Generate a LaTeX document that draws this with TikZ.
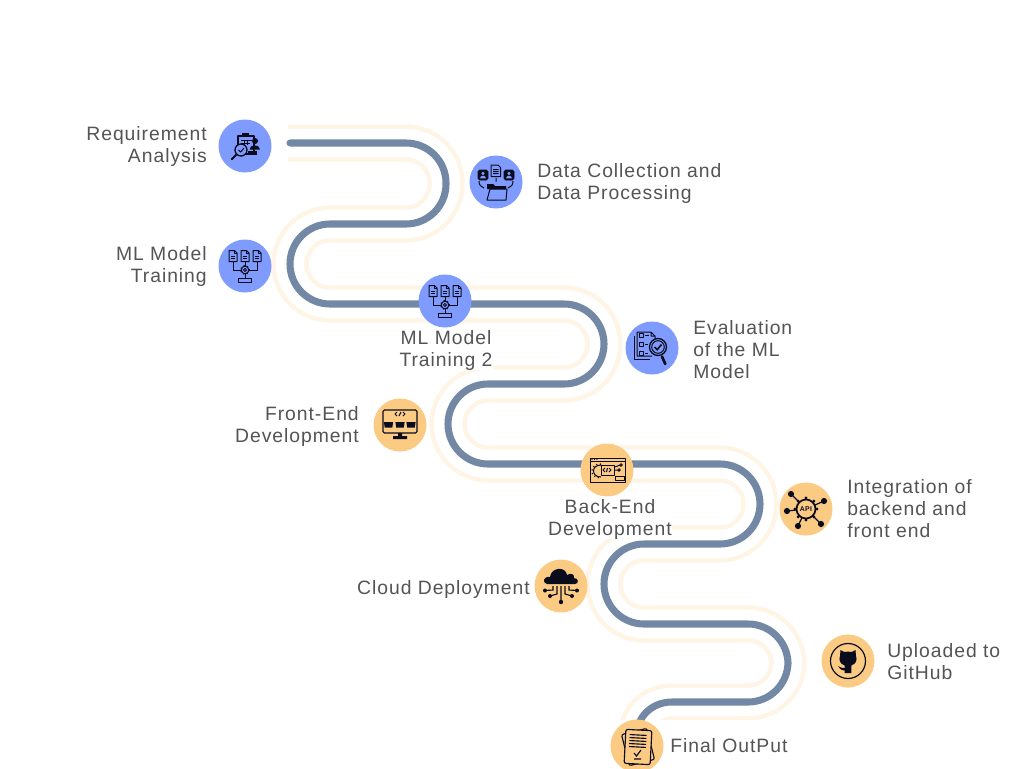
\documentclass[tikz,border=0pt]{standalone}
\usepackage{fontspec}
\setmainfont[LetterSpace=5]{Liberation Sans}
\usepackage{tikz}
\usetikzlibrary{backgrounds}
\definecolor{roadblue}{HTML}{7388A5}
\definecolor{bandpale}{HTML}{FEF5E6}
\definecolor{stepblue}{HTML}{7F9BFD}
\definecolor{steporange}{HTML}{FBCB84}
\definecolor{labelgray}{HTML}{545454}
\definecolor{inkblack}{HTML}{0B0B1E}
\tikzstyle{stepblue} = [circle, minimum size=39.75pt, inner sep=0pt, fill=stepblue]
\tikzstyle{steporange} = [circle, minimum size=39.75pt, inner sep=0pt, fill=steporange]
\tikzstyle{steplabel} = [inner sep=0pt, fill=white, text=labelgray, font=\fontsize{14.5pt}{16.5pt}\selectfont]
\tikzstyle{road} = [line width=5.3pt, color=roadblue, line cap=round, rounded corners=30pt]
\tikzstyle{band} = [line width=28pt, color=bandpale, rounded corners=30pt]
\tikzstyle{bandgap} = [line width=21.2pt, color=white, rounded corners=30pt]
\tikzstyle{ink} = [draw=inkblack, line width=0.75pt, line join=round]
\newcommand{\snakepath}{-- (446,143) -- (446,224) -- (290,224) -- (290,304) -- (604,304) -- (604,384) -- (448,384) -- (448,464) -- (760,464) -- (760,544) -- (604,544) -- (604,624) -- (788,624) -- (788,702) -- (632,702) -- (final.center)}
\tikzset{
  minidoc/.pic={
    \draw[ink, fill=stepblue] (-4,-5.5) -- (1.5,-5.5) -- (4,-3) -- (4,5.5) -- (-4,5.5) -- cycle;
    \draw[ink] (1.5,-5.5) -- (1.5,-3) -- (4,-3) (-2.3,0) -- (2.3,0) (-2.3,2.5) -- (2.3,2.5);
  },
  personbox/.pic={
    \draw[fill=inkblack, draw=inkblack, rounded corners=1.2pt] (-5,-5) rectangle (5,5);
    \fill[stepblue] (0,-1.6) circle (1.7) (-3,3.4) .. controls (-3,-0.2) and (3,-0.2) .. (3,3.4) -- cycle;
  },
  trainicon/.pic={
    \foreach \dx in {-12,0,12} {\pic at (\dx,-10) {minidoc};}
    \draw[ink] (-12,-4) -- (-12,4) -- (-4,4) (12,-4) -- (12,4) -- (4,4) (0,-4) -- (0,0) (0,8) -- (0,12);
    \fill[inkblack] (-4,2.6) -- (-2.6,4) -- (-4,5.4) -- cycle (4,2.6) -- (2.6,4) -- (4,5.4) -- cycle (-1.4,-1) -- (0,0.4) -- (1.4,-1) -- cycle;
    \draw[ink] (0,4) circle (3.8) (0,4) circle (1.5);
    \draw[ink, dotted, line width=1.1pt] (0,4) circle (4.3);
    \draw[ink] (-6.7,12.5) rectangle (6.7,16);
  }
}
\begin{document}
\begin{tikzpicture}[x=0.75pt, y=-0.75pt]
    \useasboundingbox (0,0) rectangle (1024,768);
    % step circles
    \node (req) [stepblue] at (245,146) {};
    \node (data) [stepblue] at (496,182) {};
    \node (train) [stepblue] at (245,266) {};
    \node (traintwo) [stepblue] at (445,301) {};
    \node (eval) [stepblue] at (652,348) {};
    \node (front) [steporange] at (400,425) {};
    \node (back) [steporange] at (607,470) {};
    \node (api) [steporange] at (806,509) {};
    \node (cloud) [steporange] at (561,586) {};
    \node (github) [steporange] at (848,661) {};
    \node (final) [steporange] at (637,746) {};
    % labels
    \node (reqlabel) [steplabel, anchor=east, align=right] at (207,146) {Requirement\\Analysis};
    \node (datalabel) [steplabel, anchor=west, align=left] at (537,183) {Data Collection and\\Data Processing};
    \node (trainlabel) [steplabel, anchor=east, align=right] at (207,266) {ML Model\\Training};
    \node (traintwolabel) [steplabel, align=center] at (446,350) {ML Model\\Training 2};
    \node (evallabel) [steplabel, anchor=west, align=left] at (693,350) {Evaluation\\of the ML\\Model};
    \node (frontlabel) [steplabel, anchor=east, align=right] at (359,426) {Front-End\\Development};
    \node (backlabel) [steplabel, align=center] at (610,519) {Back-End\\Development};
    \node (apilabel) [steplabel, anchor=west, align=left] at (847,509) {Integration of\\backend and\\front end};
    \node (cloudlabel) [steplabel, anchor=east] at (530,589) {Cloud Deployment};
    \node (githublabel) [steplabel, anchor=west, align=left] at (887,662) {Uploaded to\\GitHub};
    \node (finallabel) [steplabel, anchor=west] at (670,746) {Final OutPut};
    \coordinate (bandstart) at (288,143);
    \coordinate (roadstart) at (290,143);
    % the winding road
    \begin{scope}[on background layer]
        \begin{scope}
            \clip (0,0) rectangle (1024,719);
            \draw [band] (bandstart) \snakepath;
            \draw [bandgap] (bandstart) \snakepath;
        \end{scope}
        \draw [road] (roadstart) \snakepath;
    \end{scope}
    % icons
    \begin{scope}[shift={(req.center)}]
        \draw[ink, fill=stepblue, line width=0.9pt] (-7,-10) rectangle (9,8);
        \fill[inkblack] (-3,-13) rectangle (4,-9);
        \draw[ink] (-4,-6) -- (7,-6) (-4,-3) -- (5,-3) (-1,-6) -- (-1,0) (2.5,-6) -- (2.5,-1);
        \fill[inkblack] (10,-5) circle (3) (4.5,3.5) .. controls (4.5,-2) and (15,-2) .. (15,3.5) -- cycle;
        \fill[inkblack] (3,5) rectangle (12,9);
        \draw[ink, fill=stepblue, line width=1pt] (-4,4) circle (6);
        \draw[ink] (-6.5,4) -- (-4.3,6) -- (-1,2);
        \draw[draw=inkblack, line width=1.4pt, line cap=round] (-8.5,8.5) -- (-13.3,13.3);
    \end{scope}
    \begin{scope}[shift={(data.center)}]
        \draw[ink] (-5,-17) -- (2,-17) -- (4.5,-14.5) -- (4.5,-5.5) -- (-5,-5.5) -- cycle (-2.8,-12.5) -- (2.5,-12.5) (-2.8,-10.5) -- (2.5,-10.5) (-2.8,-8.5) -- (2.5,-8.5);
        \pic at (-13,-7) {personbox};
        \pic at (13,-7) {personbox};
        \draw[ink] (0,-4) -- (0,-0.5) (-17,-1) .. controls (-17,3) and (-15,5) .. (-12,6) (17,-1) .. controls (17,3) and (15,5) .. (12,6);
        \fill[inkblack] (-9,2) -- (-3,2) -- (-1,4) -- (10,4) -- (10,7) -- (-9,7) -- cycle;
        \draw[ink, fill=stepblue] (-9,18) -- (-6,7) -- (11,7) -- (10,18) -- cycle;
    \end{scope}
    \pic at (train.center) {trainicon};
    \pic at (traintwo.center) {trainicon};
    \begin{scope}[shift={(eval.center)}]
        \draw[ink] (-18,-12) -- (-18,11) -- (-2,11);
        \draw[ink] (-15,-16) -- (-1,-16) -- (3,-12) -- (3,-8) (-15,-16) -- (-15,8) -- (0,8) (-1,-16) -- (-1,-12) -- (3,-12);
        \draw[ink] (-13,-15) rectangle (-9,-11) (-13,-6) rectangle (-9,-2) (-13,3) rectangle (-9,7) (-7,-13) -- (-3,-13) (-7,-4) -- (-4,-4) (-7,5) -- (-4,5);
        \draw[ink, fill=stepblue, line width=1pt] (6,-1) circle (8.5);
        \draw[ink] (6,-1) circle (6.3);
        \draw[draw=inkblack, line width=1.2pt] (2.5,-1) -- (5.2,1.6) -- (9.5,-3.5);
        \draw[draw=inkblack, line width=2pt, line cap=round] (10,8.5) -- (13.3,16);
    \end{scope}
    \begin{scope}[shift={(front.center)}]
        \draw[draw=inkblack, line width=0.8pt, rounded corners=1pt] (-17,-15) rectangle (17,8);
        \foreach \dx in {-11.5,0,11} {\fill[inkblack] (\dx-4.6,-3) -- (\dx+4.6,-3) -- (\dx+3.8,2.7) -- (\dx-3.8,2.7) -- cycle;}
        \draw[ink] (-3,-9) -- (-5,-11) -- (-3,-13) (3,-9) -- (5,-11) -- (3,-13) (-1,-9) -- (1,-13);
        \fill[inkblack] (-2,8) rectangle (2,12) (-7,11) rectangle (7,14);
    \end{scope}
    \begin{scope}[shift={(back.center)}]
        \draw[ink] (-17,-12) rectangle (18,12) (-17,-9) -- (18,-9);
        \foreach \dx in {-15,-12.5,-10} {\fill[inkblack] (\dx,-10.5) circle (0.6);}
        \draw[ink] (-6,-5) .. controls (-16,-5) and (-16,7) .. (-6,7);
        \draw[ink, dotted, line width=1.1pt] (-6,-6) .. controls (-18,-6) and (-18,8) .. (-6,8);
        \draw[ink] (-6,-5) rectangle (7,5);
        \draw[ink] (-2,-2) -- (-4,0) -- (-2,2) (2,-2) -- (4,0) -- (2,2) (-0.5,2) -- (0.5,-2);
        \draw[ink] (8,0) -- (11,0) (8,-3) -- (13,-5) (14,-5) circle (1.3) (12,0) circle (1.3);
        \draw[ink] (8,6) rectangle (17,10);
    \end{scope}
    \begin{scope}[shift={(api.center)}]
        \foreach \px/\py in {-15/-15, 18/-8, 15/15, -8/17, -19/2} {
            \draw[draw=inkblack, line width=0.9pt] (0,0) -- (\px,\py);
            \fill[inkblack] (\px,\py) circle (3.1);
        }
        \foreach \a in {0,45,...,315} {\fill[inkblack] (\a:11) circle (1.7);}
        \draw[fill=steporange, draw=inkblack, line width=1.3pt] (0,0) circle (9.5);
        \node (apitext) [inner sep=0pt, text=inkblack, font=\fontsize{5.2pt}{6pt}\selectfont\bfseries] at (0,0) {API};
    \end{scope}
    \begin{scope}[shift={(cloud.center)}]
        \fill[inkblack] (-14,-2) .. controls (-19,-3) and (-18,-10) .. (-11,-9) .. controls (-10,-19) and (5,-20) .. (6,-11) .. controls (10,-14) and (14,-11) .. (13,-8) .. controls (18,-8) and (18,-2) .. (14,-2) -- cycle;
        \draw[draw=inkblack, line width=0.85pt] (0,0) -- (0,16) (-4,0) -- (-4,8) -- (-11,10) (4,0) -- (4,8) -- (11,10) (-8,0) -- (-8,4) -- (-16,4.5) (8,0) -- (8,4) -- (16,4.5);
        \fill[inkblack] (0,16) circle (2.2) (-11,10) circle (2) (11,10) circle (2) (-16,4.5) circle (2) (16,4.5) circle (2);
    \end{scope}
    \begin{scope}[shift={(github.center)}]
        \draw[draw=inkblack, line width=0.9pt] (0,0) circle (17.5);
        \fill[inkblack] (-7.5,-11) -- (-3.5,-9) .. controls (-1,-9.6) and (1,-9.6) .. (3.5,-9) -- (7.5,-11) -- (8,-5) .. controls (9.5,-1) and (8,3) .. (3.3,4.5) -- (3.3,12) -- (-3.3,12) -- (-3.3,9.5) .. controls (-7,9.5) and (-9,7) .. (-10,5) .. controls (-8,5.5) and (-7,7.5) .. (-3.3,7) -- (-3.3,4.5) .. controls (-8,3) and (-9.5,-1) .. (-8,-5) -- cycle;
    \end{scope}
    \begin{scope}[shift={(final.center)}]
        \draw[draw=inkblack, line width=0.85pt, rotate around={14:(1,1)}, fill=steporange, rounded corners=1.5pt] (-12,-15) rectangle (14,17);
        \draw[draw=inkblack, line width=0.85pt, rotate around={-3:(1,1)}, fill=steporange, rounded corners=1.5pt] (-12,-16) rectangle (14,18);
        \foreach \ly in {-11,-8,-5,-2,1} {\draw[draw=inkblack, line width=0.85pt, rotate around={-3:(1,1)}] (-8,\ly) -- (9,\ly);}
        \draw[draw=inkblack, line width=0.85pt] (-3,7) -- (-0.5,10) -- (4,4) (-3,13) -- (4,13);
    \end{scope}
\end{tikzpicture}
\end{document}
